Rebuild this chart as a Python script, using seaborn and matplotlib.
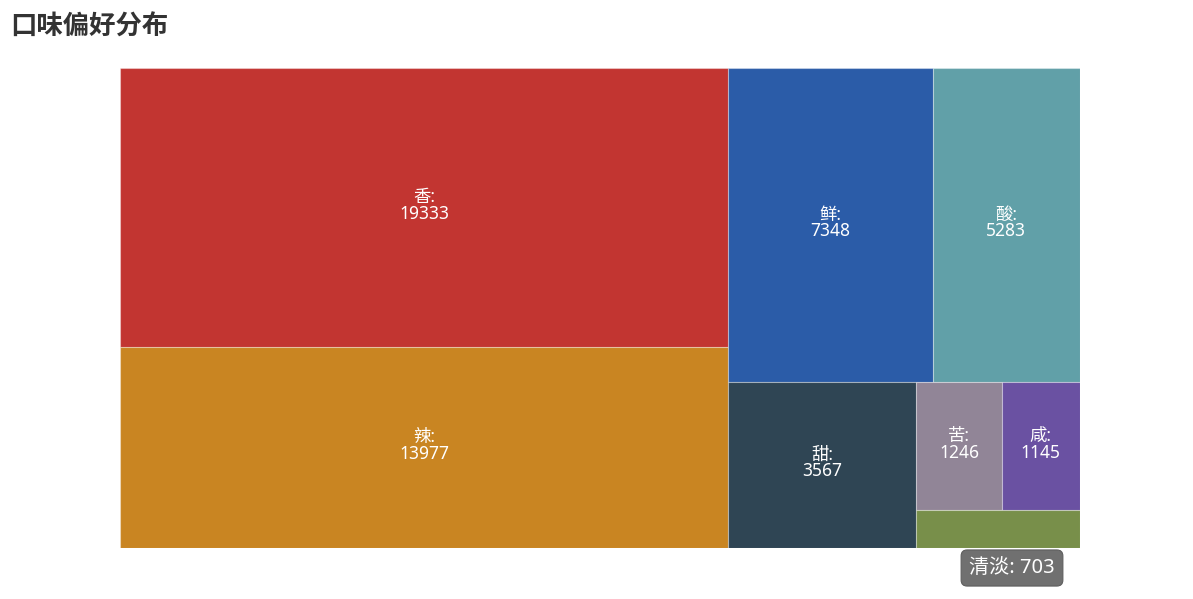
import math

import matplotlib
matplotlib.use("Agg")
import matplotlib.pyplot as plt
from matplotlib.patches import Rectangle
import seaborn as sns

# ────────── data ───────────────────────────────────────────────────────────────
flavors = ["香", "辣", "鲜", "酸", "甜", "苦", "咸", "清淡"]
counts = [19333, 13977, 7348, 5283, 3567, 1246, 1145, 703]
colors = ["#c23531", "#c98522", "#2b5ca8", "#61a0a8",
          "#2f4554", "#918597", "#6a51a2", "#788f4a"]
title = "口味偏好分布"
tooltip_name = "清淡"

W, H = 960.0, 480.0
SQUARE_RATIO = 0.5 * (1 + math.sqrt(5))
LABEL_FONT = ["Noto Sans", "Noto Sans CJK SC", "DejaVu Sans"]


# ────────── squarified layout (echarts flavour) ────────────────────────────────
def _worst(row_areas, fixed, ratio):
    total = sum(row_areas)
    sq = total * total
    f = fixed * fixed * ratio
    return max(f * max(row_areas) / sq, sq / (f * min(row_areas)))


def _position(row, fixed, rect, flush, out):
    idx0 = 0 if fixed == rect["w"] else 1
    xy, wh = ("x", "y"), ("w", "h")
    a0, a1 = xy[idx0], xy[1 - idx0]
    d0, d1 = wh[idx0], wh[1 - idx0]
    area = sum(a for _, a in row)
    other = area / fixed if fixed else 0
    if flush or other > rect[d1]:
        other = rect[d1]
    last = rect[a0]
    for i, (k, a) in enumerate(row):
        step = a / other if other else 0
        remain = rect[a0] + rect[d0] - last
        mod = remain if (i == len(row) - 1 or remain < step) else step
        box = {a0: last, a1: rect[a1], d0: mod, d1: other}
        out[k] = (box["x"], box["y"], box["w"], box["h"])
        last += mod
    rect[a1] += other
    rect[d1] -= other


def squarify(values, w, h):
    total = sum(values)
    areas = [v / total * w * h for v in values]
    rect = {"x": 0.0, "y": 0.0, "w": w, "h": h}
    out = {}
    row, best, fixed = [], math.inf, min(w, h)
    i = 0
    while i < len(areas):
        row.append((i, areas[i]))
        score = _worst([a for _, a in row], fixed, SQUARE_RATIO)
        if score <= best:
            best = score
            i += 1
        else:
            row.pop()
            _position(row, fixed, rect, False, out)
            fixed = min(rect["w"], rect["h"])
            row, best = [], math.inf
    if row:
        _position(row, fixed, rect, True, out)
    return [out[k] for k in range(len(values))]


# ────────── plot ───────────────────────────────────────────────────────────────
sns.set_theme(style="white")
plt.rcParams["font.family"] = ["Noto Sans CJK SC", "DejaVu Sans"]

fig = plt.figure(figsize=(11.93, 5.99), dpi=100)
ax = fig.add_axes([120 / 1193, 51 / 599, 960 / 1193, 480 / 599])
ax.set_xlim(0, W)
ax.set_ylim(H, 0)
ax.axis("off")

boxes = squarify(counts, W, H)
for name, val, col, (x, y, w, h) in zip(flavors, counts, colors, boxes):
    ax.add_patch(Rectangle((x, y), w, h, facecolor=col,
                           edgecolor=(1, 1, 1, 0.35), linewidth=0.8))
    if h > 45 and w > 40:
        ax.text(x + w / 2, y + h / 2 - 2, f"{name}:\n{val}", color="white",
                ha="center", va="center", fontsize=12.5, linespacing=0.9,
                family=LABEL_FONT)

fig.text(10 / 1193, 1 - 27 / 599, title, fontsize=19, fontweight="bold",
         color="#333333", ha="left", va="center")

tip = flavors.index(tooltip_name)
fig.text(1012 / 1193, 1 - 568 / 599, f"{tooltip_name}: {counts[tip]}",
         fontsize=14.5, color="white", ha="center", va="center",
         family=LABEL_FONT,
         bbox=dict(boxstyle="round,pad=0.4,rounding_size=0.3",
                   facecolor="#707070", edgecolor="#5e5e5e", linewidth=0.8))

fig.savefig("out.png", dpi=100)
